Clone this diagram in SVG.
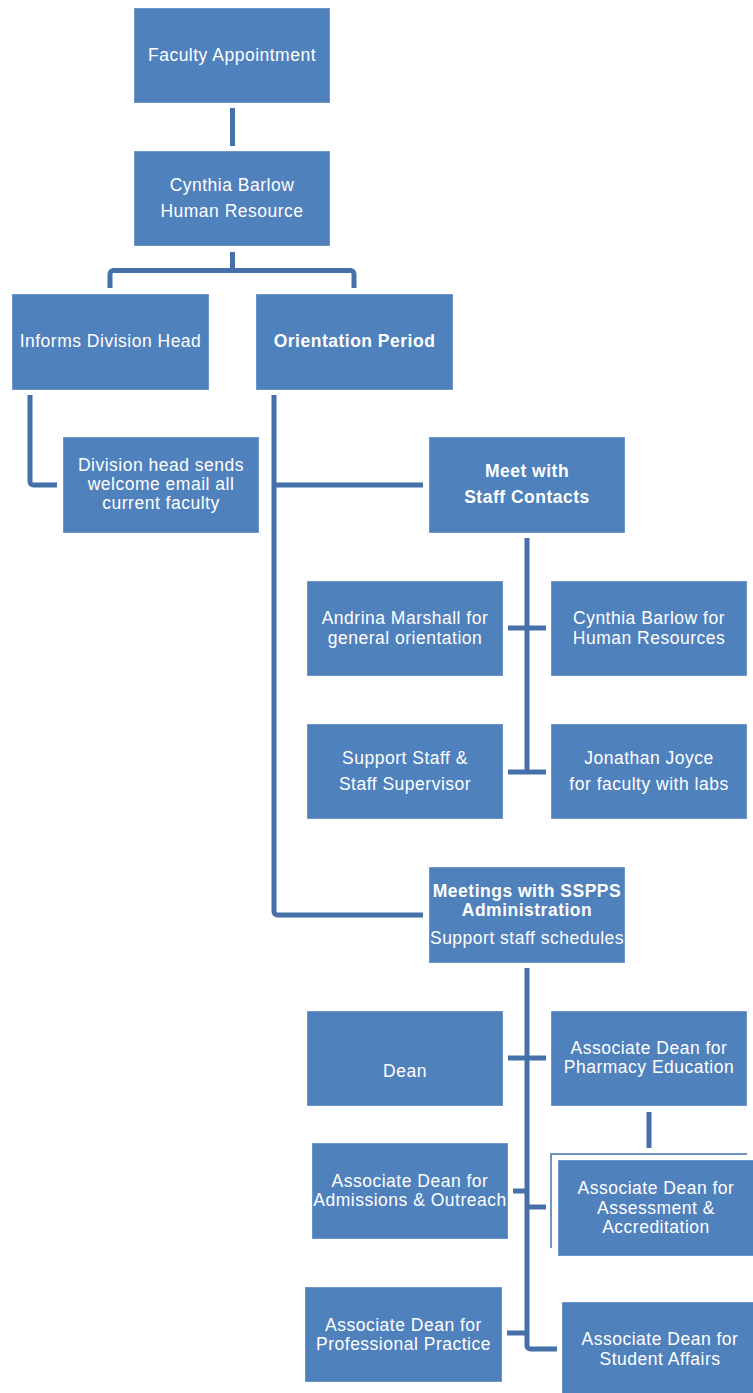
<svg xmlns="http://www.w3.org/2000/svg" width="753" height="1393" viewBox="0 0 753 1393">
<style>
.box{fill:#4F81BD;stroke:#FFFFFF;stroke-opacity:0.35;stroke-width:1}
text{font-family:"Liberation Sans",Arial,sans-serif;font-size:17.5px;letter-spacing:0.5px;fill:#FFFFFF;text-anchor:middle}
.b{font-weight:bold}
.c{fill:none;stroke:#4570AA;stroke-width:5}
.t{fill:none;stroke:#4570AA;stroke-width:1.5}
</style>
<rect width="753" height="1393" fill="#FFFFFF"/>
<g id="connectors">
<path class="c" d="M232.5,108 V146"/>
<path class="c" d="M232.5,252 V270.5"/>
<path class="c" d="M110,288 V274 a3.5,3.5 0 0 1 3.5,-3.5 H350.5 a3.5,3.5 0 0 1 3.5,3.5 V288"/>
<path class="c" d="M30,395 V481.5 a3.5,3.5 0 0 0 3.5,3.5 H57"/>
<path class="c" d="M274,395 V911.5 a3.5,3.5 0 0 0 3.5,3.5 H423"/>
<path class="c" d="M274,485 H423"/>
<path class="c" d="M527,538 V772"/>
<path class="c" d="M508,628 H546"/>
<path class="c" d="M508,772 H546"/>
<path class="c" d="M527,968 V1345.5 a3.5,3.5 0 0 0 3.5,3.5 H557"/>
<path class="c" d="M508,1058 H546"/>
<path class="c" d="M513,1191 H527"/>
<path class="c" d="M527,1207 H546"/>
<path class="c" d="M507,1333 H527"/>
<path class="c" d="M649,1112 V1148"/>
<path class="t" d="M551,1248 V1154 H747"/>
</g>
<g id="faculty-appointment"><rect class="box" x="134" y="8" width="196" height="95"/><text x="232" y="61">Faculty Appointment</text></g>
<g id="cynthia-barlow-hr"><rect class="box" x="134" y="151" width="196" height="95"/><text x="232" y="191">Cynthia Barlow</text><text x="232" y="217">Human Resource</text></g>
<g id="informs-division-head"><rect class="box" x="12" y="294" width="197" height="96"/><text x="110.5" y="347">Informs Division Head</text></g>
<g id="orientation-period"><rect class="box" x="256" y="294" width="197" height="96"/><text class="b" x="354.5" y="347">Orientation Period</text></g>
<g id="division-head-email"><rect class="box" x="63" y="437" width="196" height="96"/><text x="161" y="471">Division head sends</text><text x="161" y="490">welcome email all</text><text x="161" y="509">current faculty</text></g>
<g id="meet-staff-contacts"><rect class="box" x="429" y="437" width="196" height="96"/><text class="b" x="527" y="477">Meet with</text><text class="b" x="527" y="503">Staff Contacts</text></g>
<g id="andrina-marshall"><rect class="box" x="307" y="581" width="196" height="95"/><text x="405" y="624">Andrina Marshall for</text><text x="405" y="644">general orientation</text></g>
<g id="cynthia-barlow-contact"><rect class="box" x="551" y="581" width="196" height="95"/><text x="649" y="624">Cynthia Barlow for</text><text x="649" y="644">Human Resources</text></g>
<g id="support-staff"><rect class="box" x="307" y="724" width="196" height="95"/><text x="405" y="764">Support Staff &amp;</text><text x="405" y="790">Staff Supervisor</text></g>
<g id="jonathan-joyce"><rect class="box" x="551" y="724" width="196" height="95"/><text x="649" y="764">Jonathan Joyce</text><text x="649" y="790">for faculty with labs</text></g>
<g id="meetings-sspps"><rect class="box" x="429" y="867" width="196" height="96"/><text class="b" x="527" y="896.5">Meetings with SSPPS</text><text class="b" x="527" y="915.5">Administration</text><text x="527" y="944">Support staff schedules</text></g>
<g id="dean"><rect class="box" x="307" y="1011" width="196" height="95"/><text x="405" y="1076.5">Dean</text></g>
<g id="ad-pharmacy-education"><rect class="box" x="551" y="1011" width="196" height="95"/><text x="649" y="1054">Associate Dean for</text><text x="649" y="1072.5">Pharmacy Education</text></g>
<g id="ad-admissions"><rect class="box" x="312" y="1143" width="196" height="96"/><text x="410" y="1186.5">Associate Dean for</text><text x="410" y="1205.5">Admissions &amp; Outreach</text></g>
<g id="ad-assessment"><rect class="box" x="558" y="1160" width="200" height="96"/><text x="656" y="1194">Associate Dean for</text><text x="656" y="1213.5">Assessment &amp;</text><text x="656" y="1233">Accreditation</text></g>
<g id="ad-professional-practice"><rect class="box" x="305" y="1287" width="197" height="95"/><text x="403.5" y="1330.5">Associate Dean for</text><text x="403.5" y="1350">Professional Practice</text></g>
<g id="ad-student-affairs"><rect class="box" x="562" y="1302" width="196" height="96"/><text x="660" y="1345">Associate Dean for</text><text x="660" y="1365">Student Affairs</text></g>
</svg>
